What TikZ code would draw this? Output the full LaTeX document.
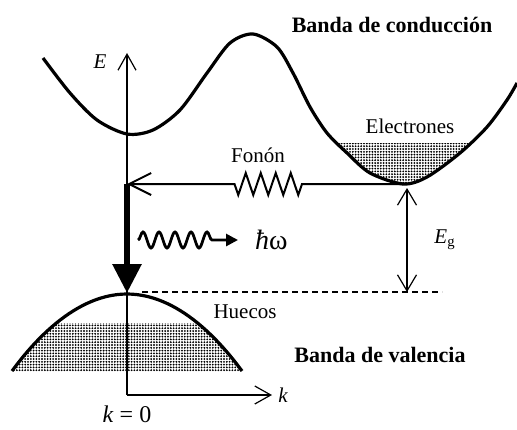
\documentclass[tikz,border=0pt]{standalone}
\usepackage{fontspec}
\setmainfont{Liberation Serif}
\usetikzlibrary{arrows.meta,positioning,calc,decorations.pathmorphing,patterns.meta}
\tikzset{
  band/.style={line width=1.6pt},
  ax/.style={line width=0.6pt, -{Straight Barb[length=8pt,width=9pt]}},
  lbl/.style={font=\fontsize{10.5}{12}\selectfont, inner sep=1pt},
  ttl/.style={font=\fontsize{11}{13}\selectfont\bfseries, inner sep=1pt},
  puntos/.style={pattern={Dots[distance=1.4pt,radius=0.52pt]}, pattern color=black},
  fonon/.style={line width=1pt, -{Straight Barb[length=11pt,width=11pt]},
    decoration={zigzag, segment length=7.5pt, amplitude=5.5pt,
                pre length=50.5pt, post length=53pt}, decorate},
  foton/.style={line width=1.4pt, -{Triangle[length=6pt,width=6pt]},
    decoration={snake, segment length=8pt, amplitude=4pt, post length=10pt}, decorate},
  salto/.style={line width=3pt, -{Triangle[length=14.5pt,width=14pt]}},
  gap/.style={line width=0.6pt, {Straight Barb[length=8pt,width=9.5pt]}-{Straight Barb[length=8pt,width=9.5pt]}},
  nivel/.style={line width=0.6pt, dash pattern=on 3pt off 2pt},
}
\def\conduccion{plot[smooth] coordinates {(43,371) (70,336) (97,309) (127,295)
  (153,299) (180,319) (207,356) (230,386) (253,395) (277,382) (293,356)
  (310,322) (327,296) (347,276) (370,256) (403,245) (427,252) (460,276)
  (487,302) (507,329) (517,346)}}
\begin{document}
\begin{tikzpicture}[x=0.5pt,y=0.5pt]
  \useasboundingbox (0,0) rectangle (517,429);
  \coordinate (O) at (127,34);
  \coordinate (Etip) at (127,376);
  \coordinate (ktip) at (272,34);
  \coordinate (cmin) at (403,245);
  \coordinate (gam) at (127,245);
  \coordinate (vtop) at (127,136);
  \coordinate (gtop) at (407,241);
  \coordinate (gbot) at (407,137);
  \coordinate (d1) at (142,137);
  \coordinate (d2) at (442,137);
  \coordinate (ph1) at (138,189);
  \coordinate (ph2) at (238,189);
  \begin{scope}
    \clip \conduccion -- cycle;
    \fill[puntos] (330,240) rectangle (490,286);
  \end{scope}
  \begin{scope}
    \clip (12,58) parabola bend (127,135) (242,58) -- cycle;
    \fill[puntos] (0,58) rectangle (260,106);
  \end{scope}
  \draw[ax] (O) -- (Etip);
  \draw[ax] (O) -- (ktip);
  \draw[band] \conduccion;
  \draw[band] (12,58) parabola bend (127,135) (242,58);
  \draw[fonon] (cmin) -- (gam);
  \draw[salto] (gam) -- (vtop);
  \draw[foton] (ph1) -- (ph2);
  \draw[gap] (gtop) -- (gbot);
  \draw[nivel] (d1) -- (d2);
  \node[lbl] (E) at (100,367) {\textit{E}};
  \node[lbl,right=2pt of ktip] (k) {\textit{k}};
  \node[lbl,font=\fontsize{12}{14}\selectfont] (k0) at (127,15) {\textit{k} = 0};
  \node[font=\fontsize{14}{16}\selectfont, right=5pt of ph2] (hw) {\textit{ħ}ω};
  \node[lbl] (Eg) at (445,189) {\textit{E}\textsubscript{g}};
  \node[lbl] (fon) at (258,274) {Fonón};
  \node[lbl] (ele) at (410,303) {Electrones};
  \node[lbl] (hue) at (245,117) {Huecos};
  \node[ttl] (bc) at (392,404) {Banda de conducción};
  \node[ttl] (bv) at (380,74) {Banda de valencia};
\end{tikzpicture}
\end{document}
